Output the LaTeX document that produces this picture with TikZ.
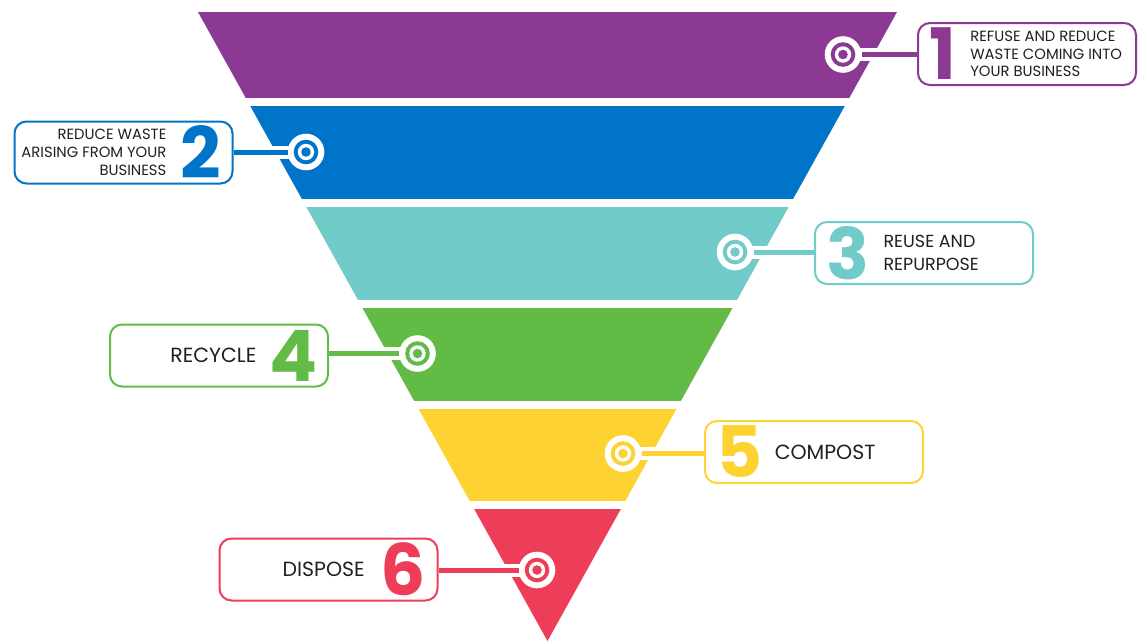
\documentclass[tikz,border=0pt]{standalone}
\usepackage{fontspec}
\setmainfont{Poppins}
\usepackage{tikz}
\usetikzlibrary{positioning}

\definecolor{lvlA}{HTML}{8B3992}
\definecolor{lvlB}{HTML}{0074C8}
\definecolor{lvlC}{HTML}{70CBC9}
\definecolor{lvlD}{HTML}{62BB46}
\definecolor{lvlE}{HTML}{FED230}
\definecolor{lvlF}{HTML}{EE3D58}
\definecolor{ink}{HTML}{231F20}

\tikzset{
	ring/.style={circle, fill=white, minimum size=36.6pt, inner sep=0pt,
		path picture={
			\fill[#1] (path picture bounding box.center) circle (12.3pt);
			\fill[white] (path picture bounding box.center) circle (8.2pt);
			\fill[#1] (path picture bounding box.center) circle (4.8pt);
		}},
	tagbox/.style={draw=#1, line width=2pt, fill=white, rounded corners=12pt,
		minimum width=218pt, minimum height=62pt},
	digit/.style={text=#1, font=\fontsize{71}{71}\selectfont\bfseries, inner sep=0pt},
	tagtext/.style n args={2}{text=ink, font=\fontsize{#1}{#2}\selectfont, inner sep=0pt},
}

\begin{document}
\begin{tikzpicture}[x=1pt, y=-1pt]
			\useasboundingbox (0,0) rectangle (1144,641);
			% Draw the funnel bands
			\foreach \ya/\yb/\col in {12/97.5/lvlA, 106/198.5/lvlB, 207/299/lvlC, 308/400/lvlD, 409/500.5/lvlE, 509.5/645/lvlF}{
				\begin{scope}
					\clip (0,\ya) rectangle (1144,\yb);
					\fill[\col] (198,12) -- (897,12) -- (547.5,641) -- cycle;
				\end{scope}
			}
			
			% markers and tag boxes
			\node[ring=lvlA] (c1) at (843,54.5) {};
			\node[ring=lvlB] (c2) at (306,152) {};
			\node[ring=lvlC] (c3) at (735,252) {};
			\node[ring=lvlD] (c4) at (417.5,353.5) {};
			\node[ring=lvlE] (c5) at (623,453.5) {};
			\node[ring=lvlF] (c6) at (537,570) {};
			
			\node[tagbox=lvlA] (b1) at (1027,54) {};
			\node[tagbox=lvlB] (b2) at (123.5,152.5) {};
			\node[tagbox=lvlC] (b3) at (924,253) {};
			\node[tagbox=lvlD] (b4) at (219,355.5) {};
			\node[tagbox=lvlE] (b5) at (814,452) {};
			\node[tagbox=lvlF] (b6) at (328.5,569.5) {};
			
			\foreach \i/\side/\col in {1/west/lvlA, 2/east/lvlB, 3/west/lvlC, 4/east/lvlD, 5/west/lvlE, 6/east/lvlF}{
				\draw[white, line width=13pt, shorten <=-2pt] (c\i) -- (c\i -| b\i.\side);
				\draw[\col, line width=5pt] (c\i) -- (c\i -| b\i.\side);
			}
			
			% numbers and texts on the right
			\node[digit=lvlA, anchor=west] (d1) at ([xshift=12pt]b1.west) {1};
			\node[tagtext={14.8}{17.7}, right=14pt of d1, align=left] (t1) {REFUSE AND REDUCE\\WASTE COMING INTO\\YOUR BUSINESS};
			\node[digit=lvlC, anchor=west] (d3) at ([xshift=12pt]b3.west) {3};
			\node[tagtext={17.5}{23}, right=14pt of d3, align=left] (t3) {REUSE AND\\REPURPOSE};
			\node[digit=lvlE, anchor=west] (d5) at ([xshift=12pt]b5.west) {5};
			\node[tagtext={20.5}{24}, right=12pt of d5] (t5) {COMPOST};
			
			% numbers and texts on the left
			\node[digit=lvlB, anchor=east] (d2) at ([xshift=-12pt]b2.east) {2};
			\node[tagtext={14.8}{17.7}, left=14pt of d2, align=right] (t2) {REDUCE WASTE\\ARISING FROM YOUR\\BUSINESS};
			\node[digit=lvlD, anchor=east] (d4) at ([xshift=-11pt]b4.east) {4};
			\node[tagtext={20.5}{24}, left=13pt of d4] (t4) {RECYCLE};
			\node[digit=lvlF, anchor=east] (d6) at ([xshift=-13pt]b6.east) {6};
			\node[tagtext={20.5}{24}, left=15pt of d6] (t6) {DISPOSE};
\end{tikzpicture}
\end{document}
